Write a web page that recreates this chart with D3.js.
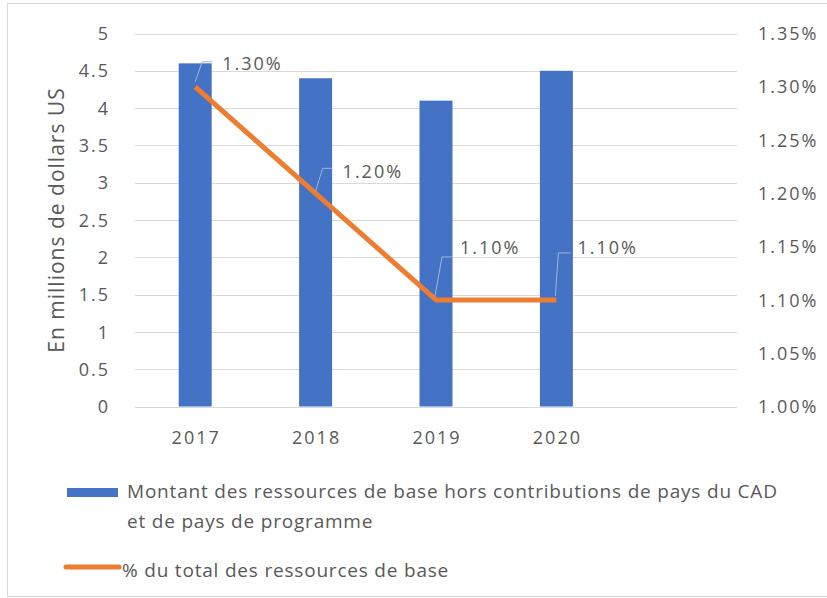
<!DOCTYPE html>
<html>
<head>
	<meta charset="utf-8">
	<title>Ressources de base</title>
	<script src="https://cdn.jsdelivr.net/npm/d3@7"></script>
	<style>
		body, html { margin: 0; overflow: hidden; background: #fff; }
		text { font-family: "Open Sans", "Noto Sans", sans-serif; fill: #595959; }
		.grid line { stroke: #d9d9d9; stroke-width: 1; }
		.tick-num { font-size: 18px; letter-spacing: 2px; }
		.legend text { font-size: 19px; letter-spacing: 0.8px; }
	</style>
</head>
<body>
<div id="svgDiv"></div>
<script>
	// data
	var years = ["2017", "2018", "2019", "2020", ""];
	var montant = [4.6, 4.4, 4.1, 4.5];          // millions USD
	var pourcent = [0.013, 0.012, 0.011, 0.011]; // share of core resources
	var leftTicks = [0, 0.5, 1, 1.5, 2, 2.5, 3, 3.5, 4, 4.5, 5];
	var rightTicks = [0.0100, 0.0105, 0.0110, 0.0115, 0.0120, 0.0125, 0.0130, 0.0135];
	var legendBar = ["Montant des ressources de base hors contributions de pays du CAD", "et de pays de programme"];
	var legendLine = "% du total des ressources de base";
	var yTitle = "En millions de dollars US";

	// label placement relative to its point (dragged by hand in the original)
	var labelPos = [
		{ sx: 0, sy: -5, cx: 7, cy: -25, ex: 17, ty: -23, tx: 27 },
		{ sx: 0, sy: -2, cx: 7, cy: -25, ex: 17, ty: -21, tx: 27 },
		{ sx: -1, sy: -4, cx: 6, cy: -43, ex: 16, ty: -52, tx: 24 },
		{ sx: -1, sy: -4, cx: 2, cy: -47, ex: 14, ty: -52, tx: 21 }
	];

	var w = 827, h = 598;
	var plotLeft = 135, plotRight = 737, plotTop = 33.5, plotBottom = 406.5;

	var svg = d3.select("#svgDiv").append("svg")
		.attr("width", w)
		.attr("height", h);

	// chart border
	svg.append("rect")
		.attr("x", 7.5).attr("y", 3.5)
		.attr("width", w).attr("height", 593)
		.attr("fill", "none")
		.attr("stroke", "#d9d9d9");

	var x = d3.scaleBand()
		.domain(years)
		.range([plotLeft, plotRight])
		.paddingInner(0.726)
		.paddingOuter(0.363);

	var y = d3.scaleLinear().domain([0, 5]).range([plotBottom, plotTop]);
	var y2 = d3.scaleLinear().domain([0.01, 0.0135]).range([plotBottom, plotTop]);

	// gridlines
	svg.append("g").attr("class", "grid")
		.selectAll("line").data(leftTicks)
		.enter().append("line")
		.attr("x1", plotLeft).attr("x2", plotRight)
		.attr("y1", function (d) { return Math.round(y(d)) + 0.5; })
		.attr("y2", function (d) { return Math.round(y(d)) + 0.5; });

	// left axis
	var yAxis = svg.append("g")
		.attr("transform", "translate(110,0)")
		.call(d3.axisLeft(y).tickValues(leftTicks).tickSize(0).tickPadding(0)
			.tickFormat(function (d) { return String(d); }));
	yAxis.select(".domain").remove();
	yAxis.selectAll("text").attr("class", "tick-num").attr("dy", "0.34em");

	// right axis
	var yAxis2 = svg.append("g")
		.attr("transform", "translate(758,0)")
		.call(d3.axisRight(y2).tickValues(rightTicks).tickSize(0).tickPadding(0)
			.tickFormat(d3.format(".2%")));
	yAxis2.select(".domain").remove();
	yAxis2.selectAll("text").attr("class", "tick-num").attr("dy", "0.34em");

	// x axis
	var xAxis = svg.append("g")
		.attr("transform", "translate(0," + 438 + ")")
		.call(d3.axisBottom(x).tickSize(0).tickPadding(0));
	xAxis.select(".domain").remove();
	xAxis.selectAll("text").attr("class", "tick-num").attr("dy", "0.34em").attr("dx", "1px");

	// axis title
	svg.append("text")
		.attr("transform", "translate(57,220) rotate(-90)")
		.attr("text-anchor", "middle")
		.attr("dy", "0.35em")
		.style("font-size", "21px")
		.style("letter-spacing", "1px")
		.text(yTitle);

	// bars
	svg.append("g").selectAll("rect").data(montant)
		.enter().append("rect")
		.attr("x", function (d, i) { return x(years[i]); })
		.attr("width", x.bandwidth())
		.attr("y", function (d) { return y(d); })
		.attr("height", function (d) { return y(0) - y(d); })
		.attr("fill", "#4472c4");

	var cx = function (i) { return x(years[i]) + x.bandwidth() / 2; };

	// line
	var line = d3.line()
		.x(function (d, i) { return cx(i); })
		.y(function (d) { return y2(d); });

	svg.append("path")
		.datum(pourcent)
		.attr("d", line)
		.attr("fill", "none")
		.attr("stroke", "#ed7d31")
		.attr("stroke-width", 5)
		.attr("stroke-linejoin", "round");

	// data labels with leader lines
	var labels = svg.append("g").selectAll("g").data(pourcent)
		.enter().append("g")
		.attr("transform", function (d, i) { return "translate(" + cx(i) + "," + y2(d) + ")"; });

	labels.append("polyline")
		.attr("points", function (d, i) {
			var p = labelPos[i];
			return [[p.sx, p.sy], [p.cx, p.cy], [p.ex, p.cy]].join(" ");
		})
		.attr("fill", "none")
		.attr("stroke", "#9fb6d6")
		.attr("stroke-width", 1);

	labels.append("text")
		.attr("class", "tick-num")
		.attr("x", function (d, i) { return labelPos[i].tx; })
		.attr("y", function (d, i) { return labelPos[i].ty; })
		.attr("dy", "0.34em")
		.text(function (d) { return d3.format(".2%")(d); });

	// legend
	var legend = svg.append("g").attr("class", "legend");
	legend.append("rect")
		.attr("x", 67).attr("y", 488)
		.attr("width", 51).attr("height", 9)
		.attr("fill", "#4472c4");
	legend.selectAll("text.l1").data(legendBar)
		.enter().append("text")
		.attr("x", 127)
		.attr("y", function (d, i) { return 498 + i * 30; })
		.text(function (d) { return d; });
	legend.append("line")
		.attr("x1", 66).attr("x2", 119)
		.attr("y1", 567).attr("y2", 567)
		.attr("stroke", "#ed7d31")
		.attr("stroke-width", 5)
		.attr("stroke-linecap", "round");
	legend.append("text")
		.attr("x", 122)
		.attr("y", 577)
		.text(legendLine);
</script>
</body>
</html>
